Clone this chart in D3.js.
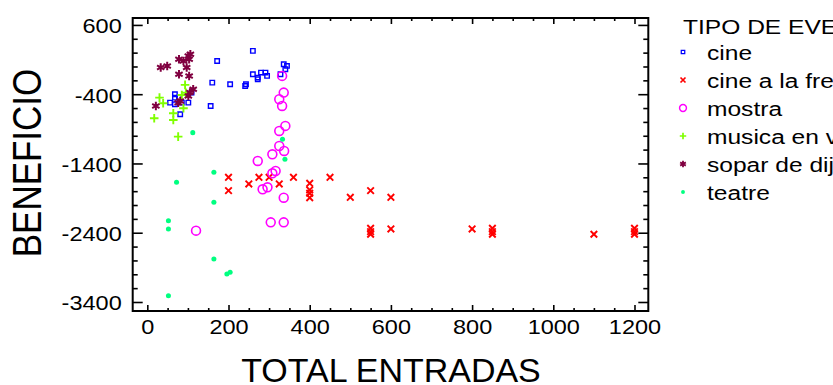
<!DOCTYPE html>
<html><head><meta charset="utf-8">
<script src="https://cdn.jsdelivr.net/npm/d3@7"></script>
<style>body{margin:0;background:#fff;overflow:hidden}svg{display:block;font-family:"Liberation Sans",Arial,Helvetica,sans-serif}</style>
</head><body>
<svg id="c" width="833" height="385"></svg>
<script>
// ---- data ----
const seriesNames = ["cine","cine a la fresca","mostra","musica en viu","sopar de dijous","teatre"];
const xTicks = [0,200,400,600,800,1000,1200];
const yTicks = [600,-400,-1400,-2400,-3400];
const legendTitle = "TIPO DE EVENTO";
const xTitle = "TOTAL ENTRADAS";
const yTitle = "BENEFICIO";

const cineX = [260,172,336,344,340,260,280,291,272,272,295,328,160,204,243,241,156,68,68,78,56,68,85,101,81,109];
const cineY = [225,80,32,8,-40,-112,-88,-88,-160,-184,-136,-112,-233,-257,-257,-281,-570,-401,-450,-450,-522,-545,-522,-522,-690,-377];

const frescaX = [200,200,250,275,300,325,360,400,400,400,400,450,500,550,600,550,550,550,600,800,850,850,850,1100,1200,1200,1200];
const frescaY = [-1600,-1792,-1696,-1600,-1600,-1696,-1600,-1686,-1783,-1830,-1894,-1600,-1888,-1792,-1888,-2336,-2384,-2422,-2346,-2346,-2336,-2384,-2422,-2422,-2336,-2384,-2422];

const mostraX = [332,336,325,332,340,325,325,337,308,272,316,308,296,284,336,304,336,120];
const mostraY = [-136,-377,-473,-570,-858,-931,-1147,-1219,-1268,-1364,-1508,-1542,-1744,-1773,-1894,-2250,-2250,-2370];

const musicaX = [93,30,39,85,89,64,64,17,76,95];
const musicaY = [-266,-450,-531,-411,-603,-675,-772,-748,-1013,-380];

const soparX = [33,49,78,89,101,103,97,78,103,113,105,101,76,21,106,81];
const soparY = [-16,8,104,80,152,104,-16,-112,-136,-329,-377,-425,-522,-570,177,-497];

const teatreX = [112,333,339,164,72,164,52,52,164,196,204,52];
const teatreY = [-955,-1051,-1339,-1527,-1671,-1960,-2226,-2346,-2779,-2996,-2971,-3309];

// ---- chart ----
const svg = d3.select("#c");
const x = d3.scaleLinear().domain([-36,1234]).range([132.7,648.3]);
const y = d3.scaleLinear().domain([-3530,700]).range([311,18]);
const [x0,x1] = x.range(), [yb,yt] = y.range();
const SX = 1.12;  // horizontal stretch of tick lettering
const SXL = 1.17; // horizontal stretch of legend lettering

const sym = (t, fb) => t || fb;
const styles = [
  {type: d3.symbolSquare, size: 20, fill:"none", stroke:"#0000ff", sw:1.4},
  {type: sym(d3.symbolTimes, d3.symbolCross), size: 30, fill:"none", stroke:"#ff0000", sw:1.9},
  {type: d3.symbolCircle, size: 62, fill:"none", stroke:"#ff00ff", sw:1.6},
  {type: sym(d3.symbolPlus, d3.symbolCross), size: 26, fill:"none", stroke:"#80ff00", sw:1.9},
  {type: sym(d3.symbolAsterisk, d3.symbolStar), size: 50, fill:"none", stroke:"#800040", sw:2.0},
  {type: d3.symbolCircle, size: 20, fill:"#00ff80", stroke:"none", sw:0}
];
const data = [
  d3.zip(cineX,cineY), d3.zip(frescaX,frescaY), d3.zip(mostraX,mostraY),
  d3.zip(musicaX,musicaY), d3.zip(soparX,soparY), d3.zip(teatreX,teatreY)
];

// axes ticks
const minorX = d3.range(0,1201,50).filter(v=>v%200!==0);
const minorY = d3.range(-3400,601,200).filter(v=>(v+400)%1000!==0);
const tickStyle = g => { g.select(".domain").remove(); g.selectAll("line").attr("stroke","#000").attr("stroke-width",1.6); g.selectAll("text").remove(); };

svg.append("g").attr("transform",`translate(0,${yb})`).call(d3.axisBottom(x).tickValues(xTicks).tickSize(-6)).call(tickStyle);
svg.append("g").attr("transform",`translate(0,${yb})`).call(d3.axisBottom(x).tickValues(minorX).tickSize(-3)).call(tickStyle);
svg.append("g").attr("transform",`translate(0,${yt})`).call(d3.axisTop(x).tickValues(xTicks).tickSize(-6)).call(tickStyle);
svg.append("g").attr("transform",`translate(0,${yt})`).call(d3.axisTop(x).tickValues(minorX).tickSize(-3)).call(tickStyle);
svg.append("g").attr("transform",`translate(${x0},0)`).call(d3.axisLeft(y).tickValues(yTicks).tickSize(-10)).call(tickStyle);
svg.append("g").attr("transform",`translate(${x0},0)`).call(d3.axisLeft(y).tickValues(minorY).tickSize(-5)).call(tickStyle);
svg.append("g").attr("transform",`translate(${x1},0)`).call(d3.axisRight(y).tickValues(yTicks).tickSize(-10)).call(tickStyle);
svg.append("g").attr("transform",`translate(${x1},0)`).call(d3.axisRight(y).tickValues(minorY).tickSize(-5)).call(tickStyle);

// tick labels
const fmt = d => String(d);
const xl = svg.append("g").attr("transform",`translate(0,${yb})`).call(d3.axisBottom(x).tickValues(xTicks).tickSize(0).tickPadding(8).tickFormat(fmt));
xl.select(".domain").remove();
xl.selectAll("text").attr("font-size",21).attr("font-family","'Liberation Sans',Arial,sans-serif").attr("fill","#000").attr("transform",`scale(${SX},1)`);
const yl = svg.append("g").attr("transform",`translate(${x0},0)`).call(d3.axisLeft(y).tickValues(yTicks).tickSize(0).tickPadding(9.8).tickFormat(fmt));
yl.select(".domain").remove();
yl.selectAll("text").attr("font-size",21).attr("font-family","'Liberation Sans',Arial,sans-serif").attr("fill","#000").attr("dy","0.38em").attr("transform",`scale(${SX},1)`);

// frame
svg.append("rect").attr("x",x0).attr("y",yt).attr("width",x1-x0).attr("height",yb-yt)
  .attr("fill","none").attr("stroke","#000").attr("stroke-width",2);

// points
data.forEach((pts,i)=>{
  const s = styles[i];
  svg.append("g").selectAll("path").data(pts).join("path")
    .attr("transform",d=>`translate(${x(d[0])},${y(d[1])})`)
    .attr("d",d3.symbol().type(s.type).size(s.size))
    .attr("fill",s.fill).attr("stroke",s.stroke).attr("stroke-width",s.sw);
});

// axis titles
svg.append("text").attr("transform",`translate(391,382) scale(1.03,1)`).attr("text-anchor","middle")
  .attr("font-size",33).text(xTitle);
svg.append("text").attr("transform",`translate(41,163) scale(1.15,1) rotate(-90)`).attr("text-anchor","middle")
  .attr("font-size",35).text(yTitle);

// legend
const lg = svg.append("g").attr("transform","translate(683,0)");
lg.append("text").attr("transform",`translate(0,34) scale(${SXL},1)`).attr("font-size",21).text(legendTitle);
seriesNames.forEach((n,i)=>{
  const s = styles[i];
  const cy = 52 + i*28;
  lg.append("path").attr("transform",`translate(0,${cy})`)
    .attr("d",d3.symbol().type(s.type).size(s.size*0.6))
    .attr("fill",s.fill).attr("stroke",s.stroke).attr("stroke-width",s.sw*0.9);
  lg.append("text").attr("transform",`translate(24,${cy+8}) scale(${SXL},1)`).attr("font-size",21).text(n);
});
</script>
</body></html>
